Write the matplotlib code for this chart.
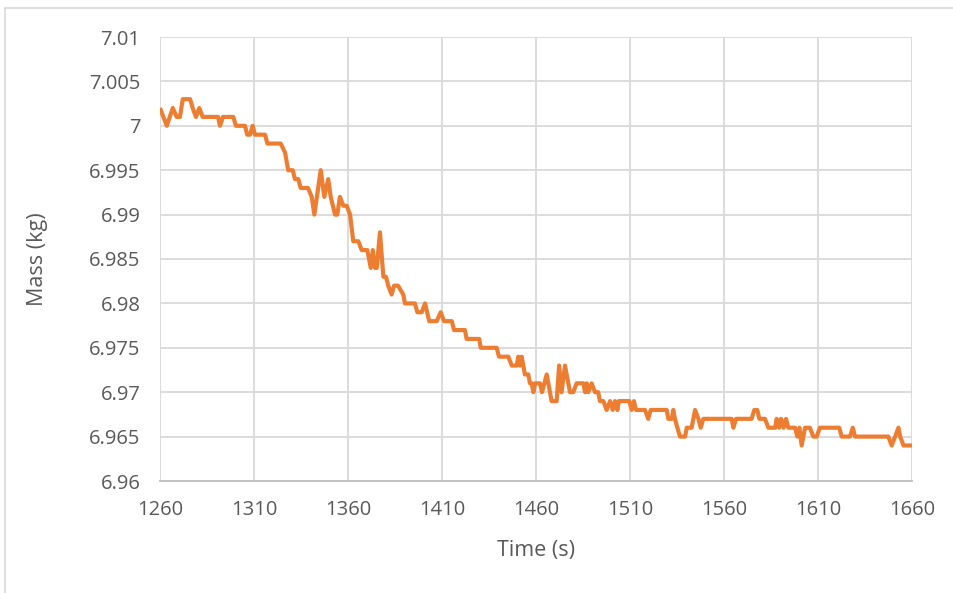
import matplotlib.pyplot as plt
from matplotlib.lines import Line2D

# mass log, one vertex per change in the reading
tiempo = [1260, 1263.6, 1266.8, 1268.9, 1270.6, 1272.1, 1276, 1277.4, 1279.1, 1280.9,
          1282.7, 1290.9, 1291.9, 1293.5, 1299, 1300.4, 1305.2, 1306.4, 1307.9, 1309.3,
          1310.5, 1315.9, 1317.1, 1324.2, 1326.5, 1328.2, 1330.6, 1331.8, 1333.6, 1334.8,
          1338.7, 1340.7, 1342.1, 1345.5, 1347.4, 1349.5, 1350.8, 1353.1, 1354.3, 1355.7,
          1357.5, 1359.3, 1361.1, 1362.8, 1365.5, 1367.3, 1370.3, 1372.1, 1373.2, 1374.4,
          1375.3, 1377.0, 1378.8, 1380.2, 1381.4, 1383.2, 1384.5, 1386.6, 1389.4, 1390.3,
          1395.6, 1396.9, 1399.2, 1401.0, 1403.2, 1407.2, 1409.3, 1411.1, 1415.2, 1416.4,
          1422.2, 1423.1, 1429.8, 1430.6, 1439.1, 1440.3, 1445.3, 1447.1, 1449.7, 1450.6,
          1451.5, 1452.4, 1454.1, 1455.9, 1456.8, 1457.7, 1458.6, 1459.5, 1462.1, 1463.2,
          1465.7, 1468.3, 1471.0, 1472.3, 1473.6, 1475.4, 1477.2, 1478.1, 1479.8, 1481.6,
          1485.2, 1486.1, 1487.0, 1487.8, 1489.6, 1491.4, 1493.1, 1494.0, 1495.8, 1497.6,
          1499.4, 1500.8, 1502.0, 1503.3, 1504.1, 1509.6, 1510.9, 1512.1, 1513.2, 1518.0,
          1519.7, 1521.0, 1529.5, 1530.4, 1532.2, 1533.0, 1533.9, 1535.2, 1536.6, 1539.3,
          1540.2, 1542.8, 1544.6, 1546.4, 1547.6, 1549.0, 1564.1, 1565.0, 1566.4, 1574.7,
          1576.1, 1577.7, 1578.8, 1581.8, 1583.6, 1587.2, 1588.0, 1589.3, 1590.3, 1591.7,
          1593.0, 1594.2, 1597.8, 1599.0, 1600.1, 1601.3, 1603.1, 1605.7, 1607.5, 1609.3,
          1611.0, 1621.3, 1622.6, 1627.0, 1628.5, 1629.7, 1647.4, 1649.2, 1651.0, 1652.8,
          1653.7, 1655.5, 1660]
masa = [7.002, 7.000, 7.002, 7.001, 7.001, 7.003, 7.003, 7.002, 7.001, 7.002,
        7.001, 7.001, 7.000, 7.001, 7.001, 7.000, 7.000, 6.999, 6.999, 7.000,
        6.999, 6.999, 6.998, 6.998, 6.997, 6.995, 6.995, 6.994, 6.994, 6.993,
        6.993, 6.992, 6.990, 6.995, 6.992, 6.994, 6.992, 6.990, 6.990, 6.992,
        6.991, 6.991, 6.990, 6.987, 6.987, 6.986, 6.986, 6.984, 6.986, 6.984,
        6.984, 6.988, 6.983, 6.983, 6.982, 6.981, 6.982, 6.982, 6.981, 6.980,
        6.980, 6.979, 6.979, 6.980, 6.978, 6.978, 6.979, 6.978, 6.978, 6.977,
        6.977, 6.976, 6.976, 6.975, 6.975, 6.974, 6.974, 6.973, 6.973, 6.974,
        6.973, 6.974, 6.972, 6.972, 6.971, 6.971, 6.970, 6.971, 6.971, 6.970,
        6.972, 6.969, 6.969, 6.973, 6.970, 6.973, 6.971, 6.970, 6.970, 6.971,
        6.971, 6.970, 6.971, 6.970, 6.971, 6.970, 6.970, 6.969, 6.969, 6.968,
        6.969, 6.968, 6.969, 6.968, 6.969, 6.969, 6.968, 6.969, 6.968, 6.968,
        6.967, 6.968, 6.968, 6.967, 6.967, 6.968, 6.967, 6.966, 6.965, 6.965,
        6.966, 6.966, 6.968, 6.967, 6.966, 6.967, 6.967, 6.966, 6.967, 6.967,
        6.968, 6.968, 6.967, 6.967, 6.966, 6.966, 6.967, 6.966, 6.967, 6.966,
        6.967, 6.966, 6.966, 6.965, 6.966, 6.964, 6.966, 6.966, 6.965, 6.965,
        6.966, 6.966, 6.965, 6.965, 6.966, 6.965, 6.965, 6.964, 6.965, 6.966,
        6.965, 6.964, 6.964]

xticks = [1260, 1310, 1360, 1410, 1460, 1510, 1560, 1610, 1660]
yticks = [6.96, 6.965, 6.97, 6.975, 6.98, 6.985, 6.99, 6.995, 7.0, 7.005, 7.01]
ytick_labels = ["6.96", "6.965", "6.97", "6.975", "6.98", "6.985", "6.99", "6.995",
                "7", "7.005", "7.01"]

plt.rcParams['font.family'] = ['Open Sans', 'DejaVu Sans']
gris_texto = "#595959"
gris_linea = "#d9d9d9"

fig = plt.figure(figsize=(9.54, 5.93), dpi=100)
ax = fig.add_axes([160 / 954, 1 - 481 / 593, 752 / 954, 444 / 593])

ax.plot(tiempo, masa, color="#ED7D31", linewidth=3.0, solid_joinstyle="round",
        solid_capstyle="butt", zorder=3)

ax.set_xlim(1260, 1660)
ax.set_ylim(6.96, 7.01)
ax.set_xticks(xticks)
ax.set_xticklabels([str(t) for t in xticks])
ax.set_yticks(yticks)
ax.set_yticklabels(ytick_labels)
ax.tick_params(axis="both", length=0, labelsize=14.5, colors=gris_texto)
ax.tick_params(axis="x", pad=14)
ax.tick_params(axis="y", pad=14)
ax.grid(True, color=gris_linea, linewidth=1.3)
ax.set_axisbelow(True)
for lado in ["top", "right", "left"]:
    ax.spines[lado].set_visible(False)
ax.spines["bottom"].set_color("#bfbfbf")
ax.spines["bottom"].set_linewidth(1.3)

ax.set_xlabel("Time (s)", fontsize=15.5, color=gris_texto, labelpad=14)
ax.set_ylabel("Mass (kg)", fontsize=15.5, color=gris_texto, labelpad=30)

# borde del area del grafico (solo arriba e izquierda)
fig.add_artist(Line2D([5 / 954, 1], [1 - 8 / 593, 1 - 8 / 593], color=gris_linea, linewidth=1.2))
fig.add_artist(Line2D([5 / 954, 5 / 954], [0, 1 - 8 / 593], color=gris_linea, linewidth=1.2))

plt.savefig("out.png", dpi=100)
